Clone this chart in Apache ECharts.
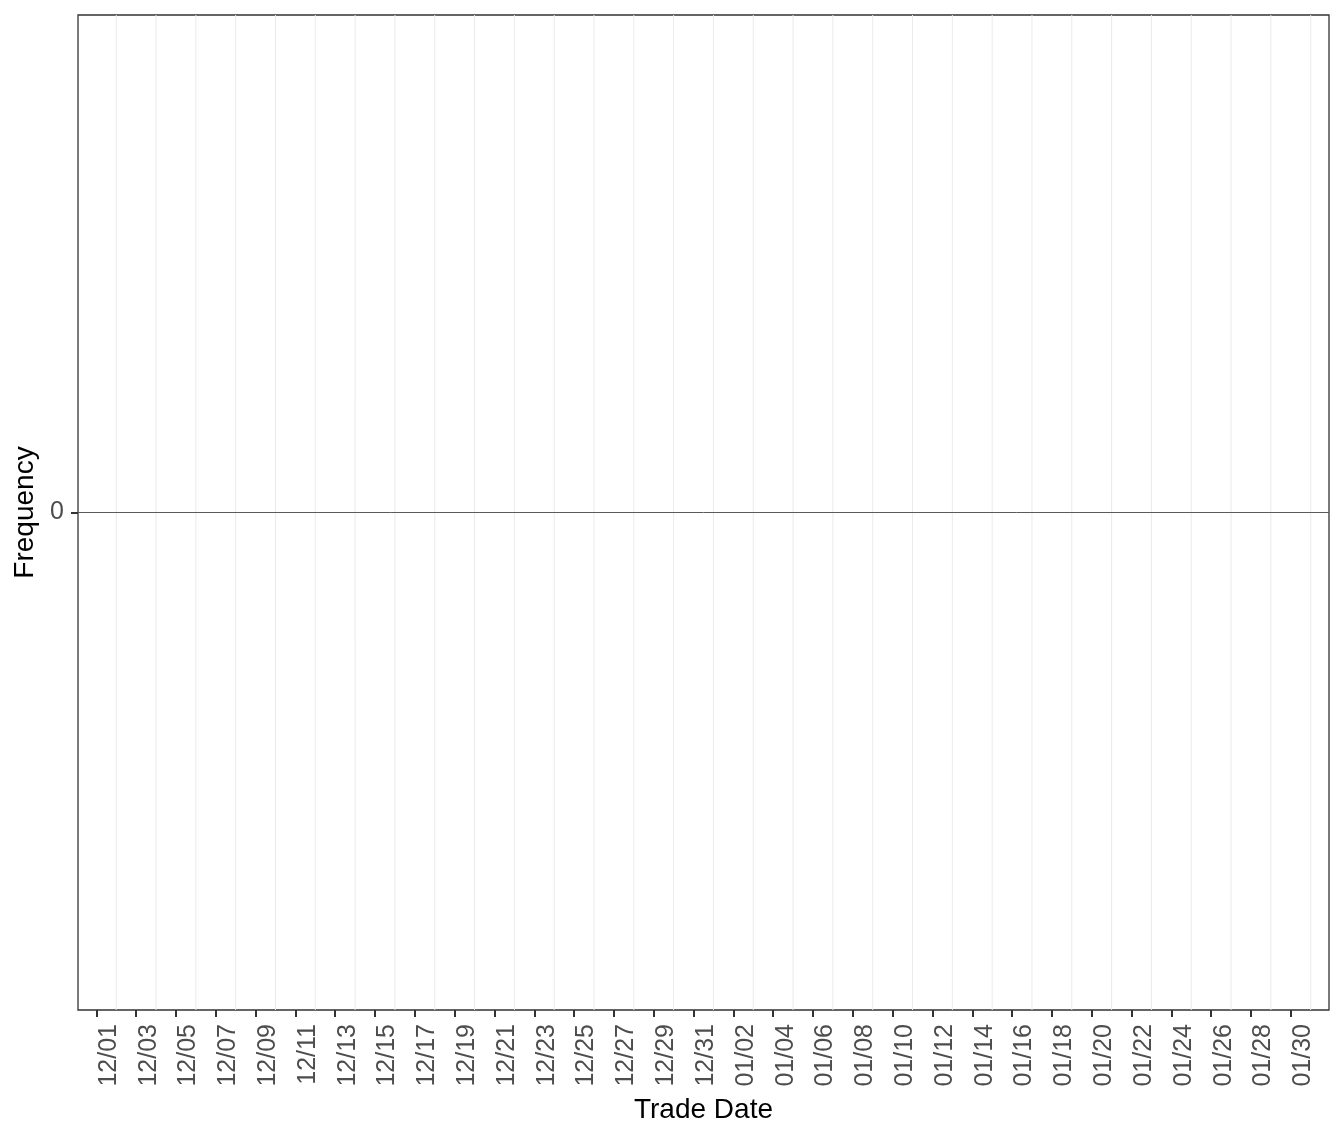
<!DOCTYPE html>
<html>
<head>
<meta charset="utf-8">
<script src="https://cdn.jsdelivr.net/npm/echarts@6/dist/echarts.min.js"></script>
<style>
  html, body { margin: 0; padding: 0; background: #fff; }
  #chart { width: 1344px; height: 1142px; }
</style>
</head>
<body>
<div id="chart"></div>
<script>
// day offsets counted from 12/01
var tickDays = [0, 2, 4, 6, 8, 10, 12, 14, 16, 18, 20, 22, 24, 26, 28, 30,
  32, 34, 36, 38, 40, 42, 44, 46, 48, 50, 52, 54, 56, 58, 60];
var tickLabels = ['12/01', '12/03', '12/05', '12/07', '12/09', '12/11', '12/13',
  '12/15', '12/17', '12/19', '12/21', '12/23', '12/25', '12/27', '12/29', '12/31',
  '01/02', '01/04', '01/06', '01/08', '01/10', '01/12', '01/14', '01/16', '01/18',
  '01/20', '01/22', '01/24', '01/26', '01/28', '01/30'];
var gridDays = [1, 3, 5, 7, 9, 11, 13, 15, 17, 19, 21, 23, 25, 27, 29, 31,
  33, 35, 37, 39, 41, 43, 45, 47, 49, 51, 53, 55, 57, 59, 61];
// no trades in the period: the frequency series is empty
var frequency = [];

var chart = echarts.init(document.getElementById('chart'));

function labelFor(v) {
  var i = tickDays.indexOf(Math.round(v));
  return i >= 0 ? tickLabels[i] : '';
}

var option = {
  backgroundColor: '#fff',
  animation: false,
  grid: {
    left: 78, right: 15, top: 15, bottom: 132,
    show: true,
    borderColor: '#333',
    borderWidth: 1.3,
    backgroundColor: 'transparent'
  },
  xAxis: {
    type: 'value',
    min: -0.92,
    max: 61.92,
    name: 'Trade Date',
    nameLocation: 'middle',
    nameGap: 86,
    nameTextStyle: { color: '#000', fontSize: 28, fontFamily: 'Liberation Sans' },
    axisLine: { show: false, onZero: false },
    axisTick: {
      show: true,
      customValues: tickDays,
      length: 7,
      lineStyle: { color: '#333', width: 2 }
    },
    axisLabel: {
      customValues: tickDays,
      rotate: 90,
      margin: 14,
      verticalAlign: 'top',
      color: '#4d4d4d',
      fontSize: 25,
      fontFamily: 'Liberation Sans',
      formatter: labelFor
    },
    splitLine: { show: false }
  },
  yAxis: {
    type: 'value',
    min: -1,
    max: 1,
    interval: 1,
    name: 'Frequency',
    nameLocation: 'middle',
    nameGap: 36,
    nameTextStyle: { color: '#000', fontSize: 28, fontFamily: 'Liberation Sans' },
    axisLine: { show: false, onZero: false },
    axisTick: {
      show: true,
      customValues: [0],
      length: 7,
      lineStyle: { color: '#333', width: 2 }
    },
    axisLabel: {
      customValues: [0],
      margin: 14,
      color: '#4d4d4d',
      fontSize: 25,
      fontFamily: 'Liberation Sans',
      formatter: function (v) { return v === 0 ? '0' : ''; }
    },
    splitLine: { show: false }
  },
  series: [
    {
      // vertical grid lines between the labelled days
      type: 'custom',
      silent: true,
      z: 1,
      data: gridDays,
      renderItem: function (params, api) {
        var top = api.coord([api.value(0), 1]);
        var bottom = api.coord([api.value(0), -1]);
        return {
          type: 'line',
          shape: { x1: top[0], y1: top[1], x2: bottom[0], y2: bottom[1] },
          style: { stroke: '#ebebeb', lineWidth: 1 }
        };
      }
    },
    {
      name: 'Frequency',
      type: 'bar',
      data: frequency,
      z: 2,
      markLine: {
        silent: true,
        symbol: 'none',
        label: { show: false },
        lineStyle: { color: '#5a5a5a', width: 1, type: 'solid' },
        data: [{ yAxis: 0 }]
      }
    }
  ]
};
chart.setOption(option);
</script>
</body>
</html>
